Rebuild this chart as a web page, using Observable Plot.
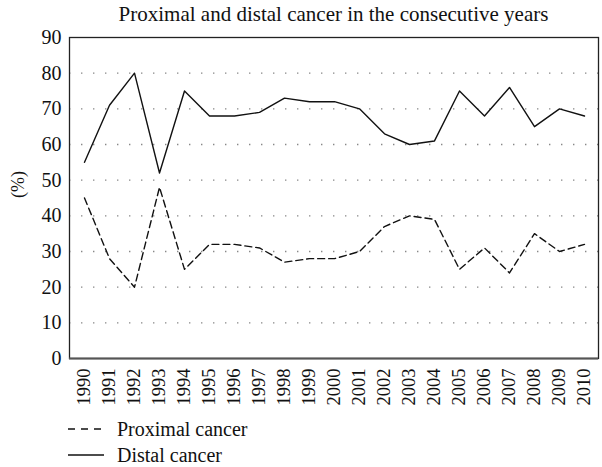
<!DOCTYPE html>
<html>
<head>
<meta charset="utf-8">
<script src="https://cdn.jsdelivr.net/npm/d3@7"></script>
<script src="https://cdn.jsdelivr.net/npm/@observablehq/plot@0.6"></script>
<style>
  html, body { margin: 0; padding: 0; background: #fff; }
  body { width: 602px; font-family: "Liberation Serif", "DejaVu Serif", serif; color: #111; }
  #title { height: 22px; line-height: 22px; padding-top: 3px; font-size: 21px; padding-left: 69px; width: 529px; text-align: center; white-space: nowrap; }
  #legend { padding-top: 6px; padding-left: 68px; font-size: 20px; }
  .row { height: 26px; display: flex; align-items: center; }
  .row svg { margin-right: 13px; }
</style>
</head>
<body>
<div id="title">Proximal and distal cancer in the consecutive years</div>
<div id="chart"></div>
<div id="legend"></div>
<script>
const years = ["1990","1991","1992","1993","1994","1995","1996","1997","1998","1999","2000","2001","2002","2003","2004","2005","2006","2007","2008","2009","2010"];
const proximal = [45, 28, 20, 48, 25, 32, 32, 31, 27, 28, 28, 30, 37, 40, 39, 25, 31, 24, 35, 30, 32];
const distal   = [55, 71, 80, 52, 75, 68, 68, 69, 73, 72, 72, 70, 63, 60, 61, 75, 68, 76, 65, 70, 68];
const seriesNames = ["Proximal cancer", "Distal cancer"];
const yTicks = [0, 10, 20, 30, 40, 50, 60, 70, 80, 90];
const gridTicks = [10, 20, 30, 40, 50, 60, 70, 80];

const proxData = years.map((y, i) => ({year: y, value: proximal[i]}));
const distData = years.map((y, i) => ({year: y, value: distal[i]}));

const chart = Plot.plot({
  width: 602,
  height: 385,
  marginTop: 12,
  marginLeft: 69,
  marginRight: 4,
  marginBottom: 52,
  style: {fontFamily: "'Liberation Serif', 'DejaVu Serif', serif", fontSize: "18px", color: "#111", background: "#fff"},
  x: {type: "point", domain: years, padding: 0.5},
  y: {domain: [0, 90]},
  marks: [
    Plot.ruleY(gridTicks, {stroke: "#888", strokeWidth: 1.4, strokeDasharray: "1.4,10.6"}),
    Plot.frame({stroke: "#222", strokeWidth: 1.3}),
    Plot.ruleY([0], {stroke: "#555", strokeWidth: 2}),
    Plot.line(proxData, {x: "year", y: "value", stroke: "#111", strokeWidth: 1.4, strokeDasharray: "7,4"}),
    Plot.line(distData, {x: "year", y: "value", stroke: "#111", strokeWidth: 1.4}),
    Plot.axisY({ticks: yTicks, tickSize: 0, tickPadding: 8, label: null, fontSize: 20}),
    Plot.axisX({tickSize: 0, tickPadding: 10, tickRotate: -90, label: null, fontSize: 18.5}),
    Plot.text(["(%)"], {frameAnchor: "left", dx: -51, rotate: -90, fontSize: 18, fill: "#111"})
  ]
});
document.getElementById("chart").appendChild(chart);

const legend = document.getElementById("legend");
const dashes = ["7,6", null];
seriesNames.forEach((name, i) => {
  const row = document.createElement("div");
  row.className = "row";
  const ns = "http://www.w3.org/2000/svg";
  const s = document.createElementNS(ns, "svg");
  s.setAttribute("width", "36");
  s.setAttribute("height", "10");
  const l = document.createElementNS(ns, "line");
  l.setAttribute("x1", "0"); l.setAttribute("x2", "36");
  l.setAttribute("y1", "5"); l.setAttribute("y2", "5");
  l.setAttribute("stroke", "#111"); l.setAttribute("stroke-width", "1.4");
  if (dashes[i]) l.setAttribute("stroke-dasharray", dashes[i]);
  s.appendChild(l);
  const t = document.createElement("span");
  t.textContent = name;
  row.appendChild(s);
  row.appendChild(t);
  legend.appendChild(row);
});
</script>
</body>
</html>
